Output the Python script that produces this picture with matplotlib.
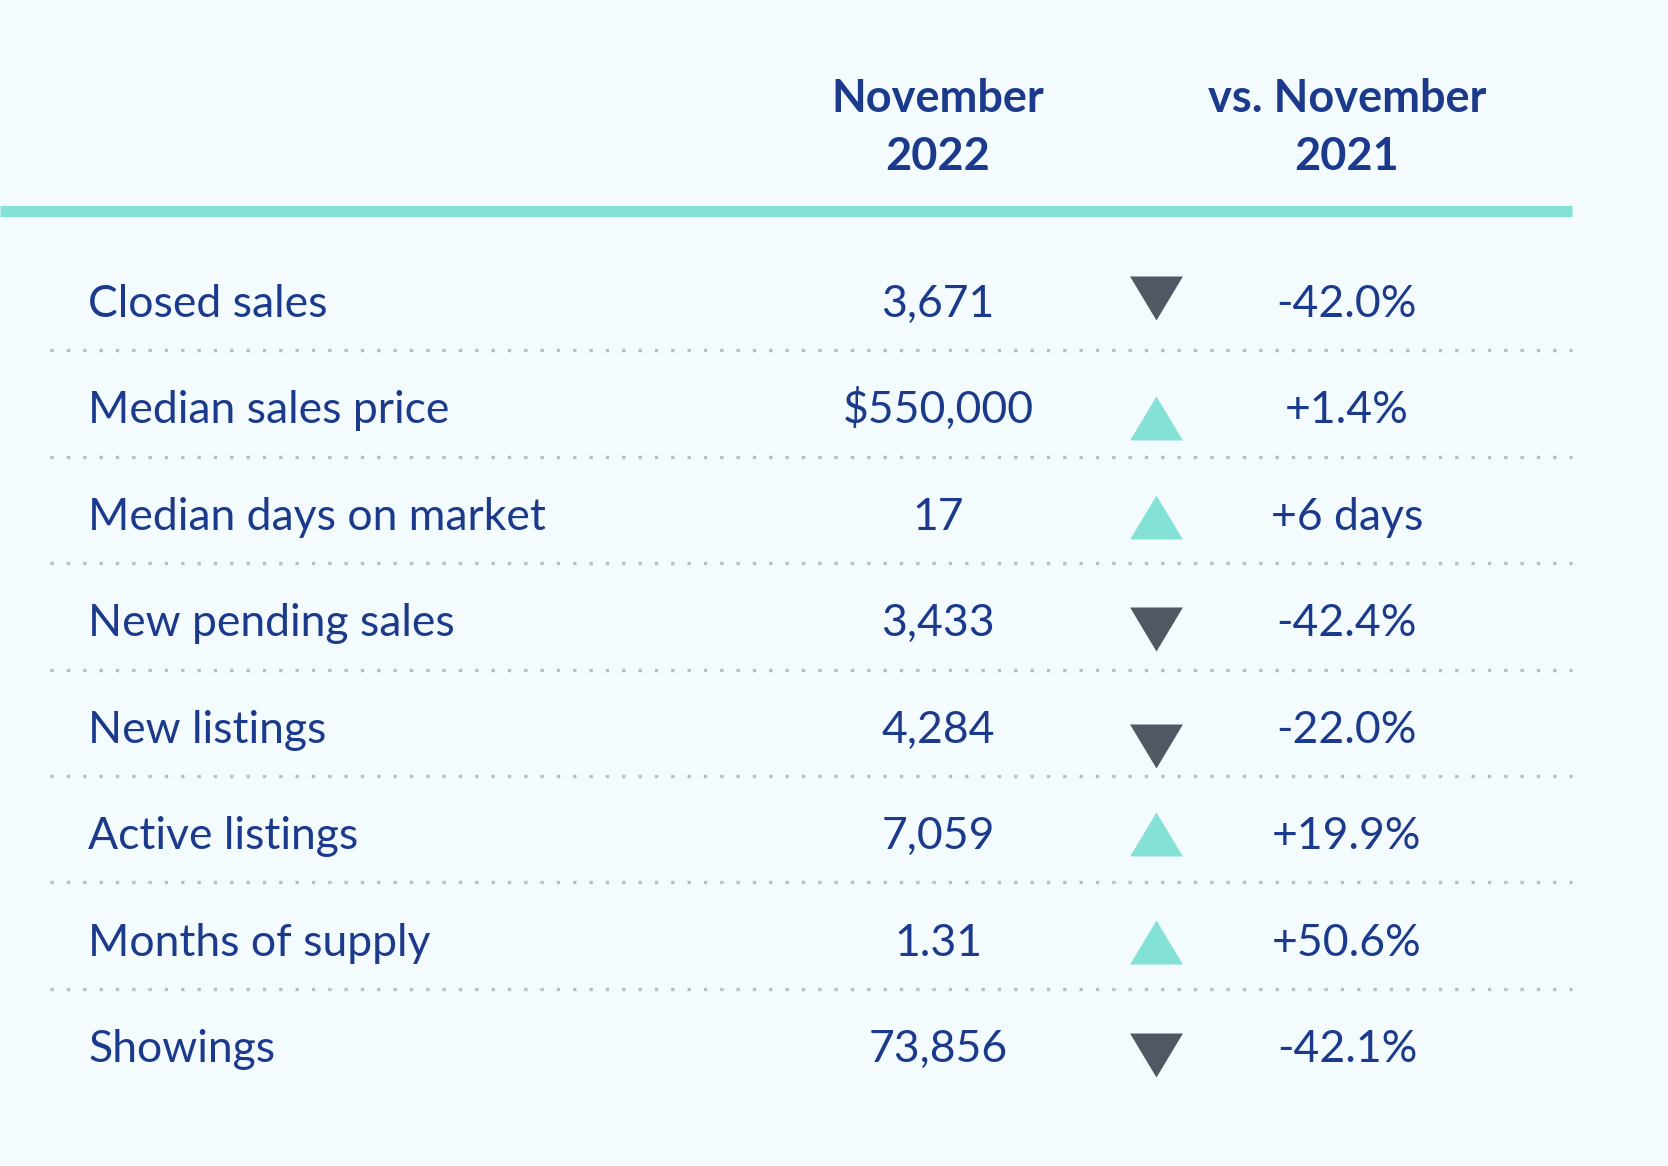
import matplotlib
matplotlib.use("Agg")
import matplotlib.pyplot as plt
import numpy as np

# ---- data ----
metrics = ["Closed sales", "Median sales price", "Median days on market",
           "New pending sales", "New listings", "Active listings",
           "Months of supply", "Showings"]
current_values = ["3,671", "$550,000", "17", "3,433", "4,284", "7,059", "1.31", "73,856"]
changes = ["-42.0%", "+1.4%", "+6 days", "-42.4%", "-22.0%", "+19.9%", "+50.6%", "-42.1%"]
directions = ["down", "up", "up", "down", "down", "up", "up", "down"]
header_current = "November\n2022"
header_change = "vs. November\n2021"

# ---- style / layout ----
W, H = 1668, 1166
BG = "#F3FBFE"
TEXT = "#1B3A8C"
TEAL = "#84E1D6"
DOWN = "#4F5863"
DOT = "#BDBDBD"
FONT = "Lato"

fig = plt.figure(figsize=(W / 100, H / 100), dpi=100, facecolor=BG)
ax = fig.add_axes([0, 0, 1, 1])
ax.set_facecolor(BG)
ax.set_xlim(0, W)
ax.set_ylim(H, 0)
ax.axis("off")

x_label = 88
x_cur = 938
x_arrow = 1156
x_chg = 1347
row_y = np.linspace(302, 1047, len(metrics))
arrow_offsets = [-4, 10, 2, 8, 18, 0, 1, 8]  # visual nudges seen in reference
fs = 32
fs_head = 32.5

# header
for x, txt in [(x_cur, header_current), (x_chg, header_change)]:
    l1, l2 = txt.split("\n")
    ax.text(x, 112, l1, ha="center", va="baseline", fontsize=fs_head, fontweight="bold",
            color=TEXT, family=FONT)
    ax.text(x, 170, l2, ha="center", va="baseline", fontsize=fs_head, fontweight="bold",
            color=TEXT, family=FONT)

# teal rule
ax.plot([0, 1572], [211, 211], color=TEAL, lw=11 * 0.72, solid_capstyle="butt")

for i, (m, v, c, d) in enumerate(zip(metrics, current_values, changes, directions)):
    y = row_y[i]
    base = y + 15
    ax.text(x_label, base, m, ha="left", va="baseline", fontsize=fs, color=TEXT, family=FONT)
    ax.text(x_cur, base, v, ha="center", va="baseline", fontsize=fs, color=TEXT, family=FONT)
    ax.text(x_chg, base, c, ha="center", va="baseline", fontsize=fs, color=TEXT, family=FONT)
    ay = y + arrow_offsets[i]
    if d == "up":
        ax.plot([x_arrow], [ay], marker=[(-0.6, -0.5), (0.6, -0.5), (0, 0.5)],
                markersize=38, color=TEAL, markeredgewidth=0, linestyle="none")
    else:
        ax.plot([x_arrow], [ay], marker=[(-0.6, 0.5), (0.6, 0.5), (0, -0.5)],
                markersize=38, color=DOWN, markeredgewidth=0, linestyle="none")
    if i < len(metrics) - 1:
        sy = (row_y[i] + row_y[i + 1]) / 2 - 5
        ax.plot([50, 1572], [sy, sy], color=DOT, lw=2.4,
                linestyle=(0, (1, 3.9)), dash_capstyle="butt")

fig.savefig("out.png", dpi=100, facecolor=BG)
